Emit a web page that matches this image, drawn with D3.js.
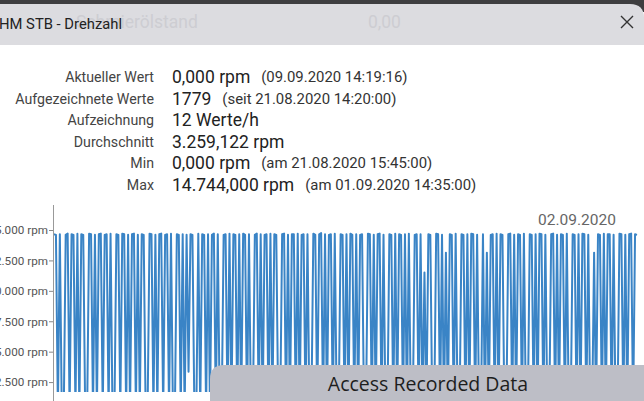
<!DOCTYPE html>
<html><head><meta charset="utf-8">
<script src="https://cdn.jsdelivr.net/npm/d3@7"></script>
<style>
html,body{margin:0;padding:0;background:#fff;overflow:hidden}
svg{display:block;font-family:Roboto,"Noto Sans",sans-serif}
</style></head>
<body>
<svg id="c" width="644" height="401"></svg>
<script>
// ---- data ----
const title = "HM STB - Drehzahl";
const ghostTexts = ["Schmierölstand", "0,00"];
const infoLabels = ["Aktueller Wert","Aufgezeichnete Werte","Aufzeichnung","Durchschnitt","Min","Max"];
const infoValues = ["0,000 rpm","1779","12 Werte/h","3.259,122 rpm","0,000 rpm","14.744,000 rpm"];
const infoExtras = ["(09.09.2020 14:19:16)","(seit 21.08.2020 14:20:00)","","","(am 21.08.2020 15:45:00)","(am 01.09.2020 14:35:00)"];
const yTicks = [2500, 5000, 7500, 10000, 12500, 15000];
const dateLabel = "02.09.2020";
const buttonLabel = "Access Recorded Data";
const rpm = [
14650,14600,0,14650,0,0,14600,14700,0,14650,
14600,0,14700,0,14650,14600,0,0,14700,14650,
0,14600,0,14650,14700,0,14600,14650,0,14700,
0,0,14650,14600,0,14700,14650,0,14600,0,
14650,14700,0,14600,0,14650,14600,0,0,14700,
14650,0,14600,0,14650,14700,0,14600,14650,0,
14700,0,0,14650,14600,0,14650,0,14600,3355,
14650,14600,0,0,14700,0,14650,14600,0,14650,
0,14600,14700,0,14650,0,0,14600,14650,0,
14700,0,14650,14600,0,14650,0,14700,14600,0,
14650,0,0,14600,14700,0,14650,0,14600,14650,
0,14700,0,14650,14600,0,0,14650,14700,0,
14600,0,14650,14650,0,14700,0,14600,14650,0,
14650,0,0,14700,14600,0,14650,14744,0,14650,
0,14600,14650,0,14700,0,0,14650,14600,0,
14650,0,14700,14600,0,14650,0,14600,14650,0,
0,14700,14650,0,14600,0,14650,14700,0,14600,
0,0,14650,14600,0,14700,0,14650,14600,0,
14650,0,14700,0,0,14600,14650,0,14650,0,
11500,0,14650,14600,0,0,14700,14650,0,14600,
0,13140,0,14650,14600,0,14700,0,0,14650,
14600,0,14650,0,14700,14650,0,14600,0,0,
14650,0,13140,0,14600,14650,0,14700,0,14650,
14600,0,0,14650,14700,0,14600,0,14650,14600,
0,14700,0,0,14650,14600,0,14650,0,14700,
14650,0,14600,0,0,14650,14700,0,14600,0,
14650,14600,0,14700,0,0,14650,14600,0,14650,
0,14700,14650,0,14600,0,0,13140,0,14650,
14600,0,14700,0,14650,14650,0,14600,0,0,
14700,14650,0,14600,0,14650,14700,0,14650,14600
];

// ---- drawing ----
const svg = d3.select("#c");
const W = 644, H = 401;

svg.append("rect").attr("x",0).attr("y",0).attr("width",W).attr("height",12).attr("fill","#3e3e40");
const hTop = 4, hBot = 45, r = 14;
svg.append("path")
  .attr("d", `M-5,${hTop} L${W-r},${hTop} Q${W},${hTop} ${W},${hTop+r} L${W},${hBot} L-5,${hBot} Z`)
  .attr("fill","#dcdce0");
svg.append("rect").attr("x",0).attr("y",hBot).attr("width",W).attr("height",H-hBot).attr("fill","#fff");

// ghost text of the page behind the translucent header
svg.append("text").attr("x",76).attr("y",28).attr("font-size",17.5).attr("fill","#cdcdd2").text(ghostTexts[0]);
svg.append("text").attr("x",368).attr("y",28).attr("font-size",17.5).attr("fill","#cdcdd2").text(ghostTexts[1]);
// title
svg.append("text").attr("x",-1).attr("y",29).attr("font-size",15).attr("fill","#222")
  .attr("textLength",123).attr("lengthAdjust","spacingAndGlyphs").text(title);
// close X
const cx = 627, cy = 22, s = 6;
svg.append("path").attr("d",`M${cx-s},${cy-s} L${cx+s},${cy+s} M${cx+s},${cy-s} L${cx-s},${cy+s}`)
  .attr("stroke","#333").attr("stroke-width",1.4).attr("fill","none");

// info block
const rowY = d3.scalePoint().domain(infoLabels).range([82, 190]);
infoLabels.forEach((lab, i) => {
  const yy = rowY(lab);
  svg.append("text").attr("x",154).attr("y",yy).attr("text-anchor","end")
    .attr("font-size",14.2).attr("fill","#444").text(lab);
  const v = svg.append("text").attr("x",172).attr("y",yy+1)
    .attr("font-size",17.5).attr("fill","#222").text(infoValues[i]);
  if (infoExtras[i]) {
    const w = v.node().getComputedTextLength();
    svg.append("text").attr("x",172 + w + 11).attr("y",yy)
      .attr("font-size",14.9).attr("fill","#333").text(infoExtras[i]);
  }
});

// chart
const x = d3.scaleLinear().domain([0, rpm.length-1]).range([54, 637]);
const y = d3.scaleLinear().domain([0, 15000]).range([412.5, 230]);

svg.append("defs").append("clipPath").attr("id","plot")
  .append("rect").attr("x",53).attr("y",200).attr("width",W-53).attr("height",192);

const line = d3.line().x((d,i)=>x(i)).y(d=>y(d));
svg.append("path").datum(rpm).attr("d",line)
  .attr("fill","none").attr("stroke","#3a84c6").attr("stroke-width",2)
  .attr("stroke-linejoin","round").attr("clip-path","url(#plot)");

const loc = d3.formatLocale({decimal:",", thousands:".", grouping:[3], currency:["","€"]});
const yAxis = d3.axisLeft(y).tickValues(yTicks).tickSize(4).tickSizeOuter(0)
  .tickFormat(v => loc.format(",")(v) + " rpm");
const ga = svg.append("g").attr("transform","translate(53,0)").call(yAxis);
ga.select(".domain").remove();
ga.selectAll(".tick line").attr("stroke","#888");
ga.selectAll(".tick text").attr("font-size",11.7).attr("fill","#555").attr("font-family","Roboto,sans-serif").attr("x",-5);
svg.append("line").attr("x1",53.5).attr("x2",53.5).attr("y1",205).attr("y2",H).attr("stroke","#999").attr("stroke-width",1);

// date label
svg.append("text").attr("x",538).attr("y",225).attr("font-size",15.5).attr("fill","#666").text(dateLabel);

// overlay button
const bx = 210, by = 365, br = 14;
svg.append("path")
  .attr("d",`M${bx},${H+5} L${bx},${by+br} Q${bx},${by} ${bx+br},${by} L${W+5},${by} L${W+5},${H+5} Z`)
  .attr("fill","#bdbec6");
svg.append("text").attr("x",428).attr("y",391).attr("text-anchor","middle")
  .attr("font-family","'Open Sans',sans-serif").attr("font-size",19.5).attr("fill","#1e1e1e").text(buttonLabel);
</script>
</body></html>
